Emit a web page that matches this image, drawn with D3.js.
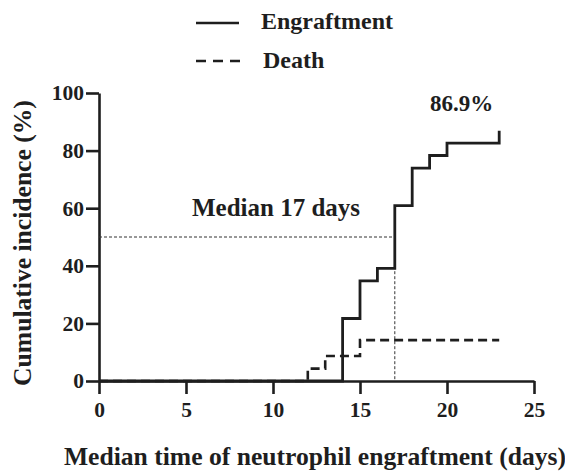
<!DOCTYPE html>
<html>
<head>
<meta charset="utf-8">
<script src="https://cdn.jsdelivr.net/npm/d3@7"></script>
<style>
  body { margin: 0; background: #fff; }
  text { font-family: "Liberation Serif", "Times New Roman", serif; font-weight: bold; fill: #1e1e1e; }
</style>
</head>
<body>
<div id="chart"></div>
<script>
// cumulative incidence steps
const engraftDays = [0, 14, 15, 16, 17, 18, 19, 20, 23];
const engraftPct = [0, 21.7, 34.8, 39.1, 60.9, 73.9, 78.3, 82.6, 86.9];
const deathDays = [0, 12, 13, 15, 23];
const deathPct = [0, 4.3, 8.7, 14.2, 14.2];
const xTicks = [0, 5, 10, 15, 20, 25];
const yTicks = [0, 20, 40, 60, 80, 100];
const medianDay = 17;

const W = 565, H = 472;
const svg = d3.select("#chart").append("svg")
    .attr("width", W)
    .attr("height", H);

const x = d3.scaleLinear().domain([0, 25]).range([99, 534]);
const y = d3.scaleLinear().domain([0, 100]).range([381, 93]);

// axes
const xAxis = svg.append("g")
    .attr("transform", `translate(0,${y(0)})`)
    .call(d3.axisBottom(x).tickValues(xTicks).tickSize(13).tickSizeOuter(0).tickPadding(7));
const yAxis = svg.append("g")
    .attr("transform", `translate(${x(0)},0)`)
    .call(d3.axisLeft(y).tickValues(yTicks).tickSize(13).tickSizeOuter(0).tickPadding(2));

[xAxis, yAxis].forEach(g => {
    g.selectAll("path, line").attr("stroke", "#1e1e1e").attr("stroke-width", 2.6);
    g.selectAll("text")
        .style("font-family", '"Liberation Serif", serif')
        .style("font-weight", "bold")
        .style("font-size", "21.5px")
        .attr("fill", "#1e1e1e");
});
xAxis.selectAll("text").attr("dy", "0.75em");

// median guide lines
svg.append("path")
    .attr("d", d3.line()([[x(0), y(50)], [x(medianDay), y(50)], [x(medianDay), y(0)]]))
    .attr("fill", "none")
    .attr("stroke", "#333")
    .attr("stroke-width", 1)
    .attr("stroke-dasharray", "3,2");

const step = d3.line()
    .x(d => x(d[0]))
    .y(d => y(d[1]))
    .curve(d3.curveStepAfter);

svg.append("path")
    .attr("d", step(deathDays.map((d, i) => [d, deathPct[i]])))
    .attr("fill", "none")
    .attr("stroke", "#1e1e1e")
    .attr("stroke-width", 2.6)
    .attr("stroke-dasharray", "9,5");

svg.append("path")
    .attr("d", step(engraftDays.map((d, i) => [d, engraftPct[i]])))
    .attr("fill", "none")
    .attr("stroke", "#1e1e1e")
    .attr("stroke-width", 2.8);

// legend
svg.append("line").attr("x1", 196).attr("x2", 239).attr("y1", 23).attr("y2", 23)
    .attr("stroke", "#1e1e1e").attr("stroke-width", 2.6);
svg.append("line").attr("x1", 196).attr("x2", 240).attr("y1", 61).attr("y2", 61)
    .attr("stroke", "#1e1e1e").attr("stroke-width", 2.6).attr("stroke-dasharray", "10,7");
svg.append("text").attr("x", 261).attr("y", 29).style("font-size", "24px").text("Engraftment");
svg.append("text").attr("x", 263).attr("y", 68).style("font-size", "24px").text("Death");

// annotations
svg.append("text").attr("x", 192).attr("y", 216).style("font-size", "25px").text("Median 17 days");
svg.append("text").attr("x", 430).attr("y", 111).style("font-size", "23px").text("86.9%");

// axis titles
svg.append("text")
    .attr("x", 315).attr("y", 465)
    .attr("text-anchor", "middle")
    .style("font-size", "25.6px")
    .text("Median time of neutrophil engraftment (days)");
svg.append("text")
    .attr("transform", "translate(31,243) rotate(-90)")
    .attr("text-anchor", "middle")
    .style("font-size", "25.6px")
    .text("Cumulative incidence (%)");
</script>
</body>
</html>
